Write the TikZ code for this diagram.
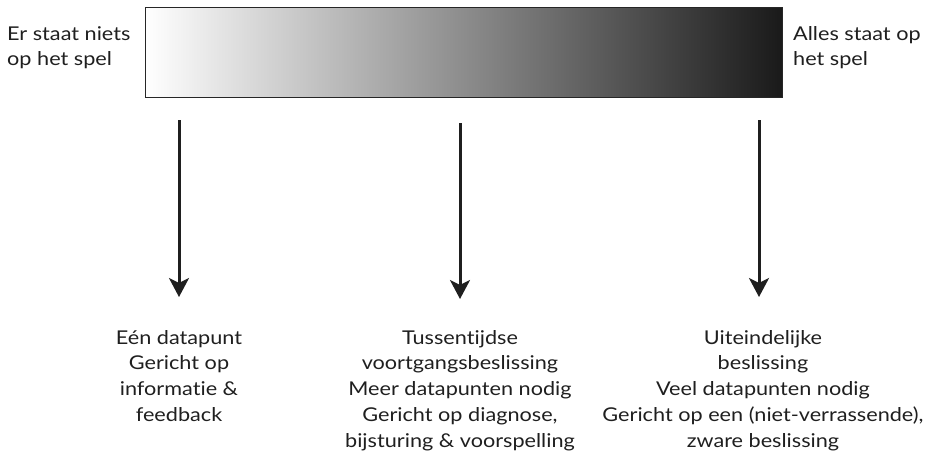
\documentclass[tikz,border=0pt]{standalone}
\usepackage{fontspec}
\setmainfont[FakeStretch=1.14, Ligatures=NoCommon]{Lato}
\usetikzlibrary{arrows.meta}
\begin{document}
\begin{tikzpicture}[x=1pt,y=-1pt,
  txt/.style={font=\fontsize{19}{25.7}\selectfont, text=black!88, inner sep=0pt},
  down/.style={line width=3pt, draw=black!88, -{Stealth[length=19pt,width=20pt,inset=5pt]}}]
  \useasboundingbox (0,0) rectangle (932,451);
  % stakes bar: shaded from white to near black
  \node[draw=black!85, line width=0.9pt, left color=white, right color=black!90,
        minimum width=637pt, minimum height=90pt, inner sep=0pt, anchor=north west]
        (bar) at (145,7) {};
  \node[txt, align=left, anchor=north west] (low) at (7,26) {Er staat niets\\op het spel};
  \node[txt, align=left, anchor=north west] (high) at (793,26) {Alles staat op\\het spel};
  % arrow start and end points
  \coordinate (s1) at (179,120);
  \coordinate (e1) at (179,297);
  \coordinate (s2) at (460,123);
  \coordinate (e2) at (460,299);
  \coordinate (s3) at (759,120);
  \coordinate (e3) at (759,297);
  \draw[down] (s1) -- (e1);
  \draw[down] (s2) -- (e2);
  \draw[down] (s3) -- (e3);
  % descriptions below the arrows
  \node[txt, align=center, anchor=north] (d1) at (179,330)
    {Eén datapunt\\Gericht op\\informatie \&\\feedback};
  \node[txt, align=center, anchor=north] (d2) at (460,330)
    {Tussentijdse\\voortgangsbeslissing\\Meer datapunten nodig\\Gericht op diagnose,\\bijsturing \& voorspelling};
  \node[txt, align=center, anchor=north] (d3) at (763,330)
    {Uiteindelijke\\beslissing\\Veel datapunten nodig\\Gericht op een (niet-verrassende),\\zware beslissing};
\end{tikzpicture}
\end{document}
